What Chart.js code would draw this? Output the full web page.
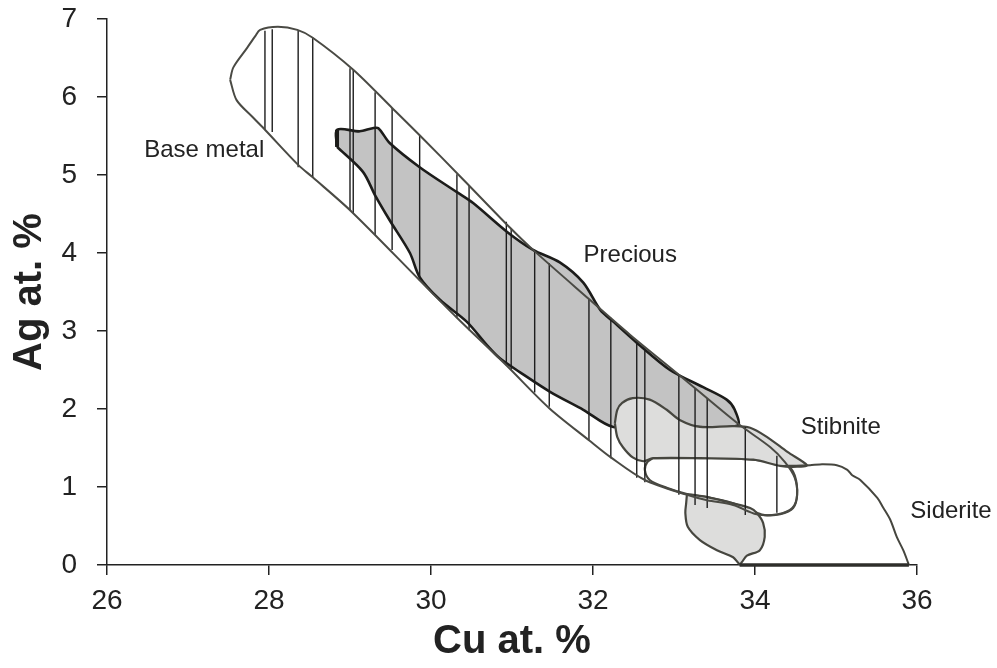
<!DOCTYPE html>
<html>
<head>
<meta charset="utf-8">
<script src="https://cdn.jsdelivr.net/npm/chart.js@4.4.1/dist/chart.umd.min.js"></script>
<style>
  html, body { margin: 0; padding: 0; background: #ffffff; }
  #wrap { width: 997px; height: 668px; }
</style>
</head>
<body>
<div id="wrap"><canvas id="c" width="997" height="668"></canvas></div>
<script>
// Axis ticks
const cuTicks = [26, 28, 30, 32, 34, 36];
const agTicks = [0, 1, 2, 3, 4, 5, 6, 7];

// Base metal field outline (Cu at.%, Ag at.%)
const baseCu = [27.52, 27.56, 27.73, 27.83, 27.89, 28.11, 28.35, 28.54, 29.04, 29.52, 29.86, 30.40, 30.98, 31.26, 31.95, 32.46, 33.06, 33.78, 34.19, 34.37, 34.49, 34.52, 34.46, 34.28, 34.02, 33.73, 33.41, 33.16, 32.64, 32.22, 31.95, 31.46, 30.93, 30.32, 29.86, 29.02, 28.54, 28.36, 27.95, 27.80, 27.60, 27.52];
const baseAg = [6.22, 6.38, 6.63, 6.78, 6.86, 6.90, 6.86, 6.76, 6.35, 5.86, 5.51, 4.94, 4.32, 4.04, 3.41, 2.95, 2.44, 1.82, 1.51, 1.32, 1.12, 0.90, 0.73, 0.65, 0.65, 0.77, 0.83, 0.90, 1.09, 1.38, 1.60, 2.01, 2.56, 3.17, 3.65, 4.53, 4.97, 5.13, 5.58, 5.74, 5.96, 6.22];

// Vertical ruling across the base metal field
const hatchCu = [27.95, 28.04, 28.36, 28.54, 29.00, 29.04, 29.31, 29.52, 29.86, 30.32, 30.47, 30.93, 30.99, 31.28, 31.46, 31.95, 32.22, 32.54, 32.64, 33.06, 33.26, 33.41, 33.88, 34.27];
const hatchTop = [6.85, 6.87, 6.85, 6.76, 6.37, 6.35, 6.06, 5.86, 5.51, 5.01, 4.86, 4.40, 4.32, 4.03, 3.87, 3.41, 3.17, 2.88, 2.79, 2.44, 2.27, 2.14, 1.77, 1.40];
const hatchBottom = [5.58, 5.55, 5.10, 4.97, 4.55, 4.51, 4.23, 4.04, 3.65, 3.17, 3.01, 2.56, 2.50, 2.21, 2.03, 1.59, 1.37, 1.12, 1.06, 0.90, 0.77, 0.73, 0.64, 0.67];

// Precious field outline
const preciousCu = [28.84, 28.84, 29.12, 29.28, 29.35, 29.49, 29.86, 30.32, 30.52, 30.94, 31.26, 31.59, 31.88, 32.09, 32.25, 32.54, 32.95, 33.36, 33.65, 33.75, 33.79, 33.32, 32.83, 32.25, 31.88, 31.47, 31.10, 30.85, 30.69, 30.44, 30.11, 29.86, 29.74, 29.49, 29.31, 29.16, 28.84];
const preciousAg = [5.36, 5.58, 5.56, 5.60, 5.60, 5.41, 5.10, 4.78, 4.64, 4.27, 4.04, 3.88, 3.62, 3.27, 3.12, 2.85, 2.50, 2.28, 2.12, 1.99, 1.79, 1.77, 1.79, 1.77, 1.99, 2.22, 2.47, 2.65, 2.82, 3.12, 3.40, 3.69, 4.00, 4.42, 4.74, 5.04, 5.36];
// heavier left edge of the precious field
const preciousEdgeCu = [28.84, 28.84];
const preciousEdgeAg = [5.36, 5.58];

// Stibnite field, upper lobe
const stibUpperCu = [32.27, 32.30, 32.36, 32.49, 32.70, 32.91, 33.07, 33.32, 33.73, 33.94, 34.15, 34.40, 34.64, 34.52, 34.31, 33.98, 33.32, 32.74, 32.62, 32.49, 32.37, 32.30, 32.27];
const stibUpperAg = [1.82, 1.99, 2.08, 2.14, 2.12, 1.99, 1.86, 1.77, 1.78, 1.76, 1.64, 1.45, 1.28, 1.26, 1.27, 1.35, 1.37, 1.37, 1.33, 1.38, 1.51, 1.64, 1.82];

// Open band between the stibnite lobes
const bandCu = [32.74, 33.32, 33.98, 34.40, 34.49, 34.52, 34.47, 34.31, 34.12, 34.02, 33.73, 33.41, 33.16, 32.91, 32.70, 32.64, 32.67, 32.74];
const bandAg = [1.37, 1.37, 1.35, 1.27, 1.15, 0.90, 0.73, 0.65, 0.64, 0.67, 0.79, 0.87, 0.91, 0.99, 1.09, 1.22, 1.32, 1.37];

// Stibnite field, lower lobe
const stibLowerCu = [33.16, 33.41, 33.73, 33.94, 34.02, 34.10, 34.12, 34.06, 33.90, 33.84, 33.81, 33.73, 33.53, 33.32, 33.17, 33.14, 33.15, 33.16];
const stibLowerAg = [0.91, 0.87, 0.79, 0.73, 0.67, 0.54, 0.36, 0.19, 0.12, 0.04, 0.01, 0.10, 0.19, 0.32, 0.49, 0.67, 0.79, 0.91];

// Siderite field boundary and its base along Ag = 0
const sideriteCu = [34.31, 34.68, 34.80, 35.01, 35.14, 35.20, 35.30, 35.51, 35.58, 35.67, 35.75, 35.83, 35.89, 35.90];
const sideriteAg = [1.27, 1.28, 1.29, 1.28, 1.22, 1.15, 1.09, 0.86, 0.74, 0.58, 0.36, 0.19, 0.03, 0.00];
const sideriteBaseCu = [33.81, 35.90];
const sideriteBaseAg = [0.00, 0.00];

// Field names
const fieldNames = ['Base metal', 'Precious', 'Stibnite', 'Siderite'];
const fieldNameCu = [27.20, 32.46, 35.06, 36.42];
const fieldNameAg = [5.31, 3.97, 1.76, 0.69];

const FONT = "'Liberation Sans', Arial, Helvetica, sans-serif";
const INK = '#222222';
const EDGE = '#46463f';

function pts(xs, ys) {
  return xs.map((x, i) => ({ x: x, y: ys[i] }));
}

function field(label, xs, ys, style, order) {
  return Object.assign({
    label: label,
    data: pts(xs, ys),
    showLine: true,
    pointRadius: 0,
    pointHoverRadius: 0,
    tension: 0.3,
    clip: false,
    order: order
  }, style);
}

const datasets = [];

// base metal background (drawn first)
datasets.push(field('Base metal area', baseCu, baseAg,
  { backgroundColor: '#ffffff', borderColor: 'rgba(0,0,0,0)', borderWidth: 0, fill: 'shape' }, 20));

datasets.push(field('Precious', preciousCu, preciousAg,
  { backgroundColor: '#c3c3c3', borderColor: '#1c1c1a', borderWidth: 2.6, fill: 'shape' }, 19));

datasets.push(field('Precious edge', preciousEdgeCu, preciousEdgeAg,
  { borderColor: '#1c1c1a', borderWidth: 4, fill: false, tension: 0 }, 18.5));

datasets.push(field('Band', bandCu, bandAg,
  { backgroundColor: '#ffffff', borderColor: EDGE, borderWidth: 2.2, fill: 'shape' }, 18));

datasets.push(field('Stibnite upper', stibUpperCu, stibUpperAg,
  { backgroundColor: '#dddddc', borderColor: EDGE, borderWidth: 2.2, fill: 'shape' }, 17));

datasets.push(field('Stibnite lower', stibLowerCu, stibLowerAg,
  { backgroundColor: '#dddddc', borderColor: EDGE, borderWidth: 2.2, fill: 'shape' }, 16));

datasets.push(field('Siderite', sideriteCu, sideriteAg,
  { borderColor: EDGE, borderWidth: 2, fill: false }, 15));

datasets.push(field('Siderite base', sideriteBaseCu, sideriteBaseAg,
  { borderColor: '#2e2e2b', borderWidth: 3.5, fill: false, tension: 0 }, 14));

hatchCu.forEach((cu, i) => {
  datasets.push(field('Rule ' + i, [cu, cu], [hatchTop[i], hatchBottom[i]],
    { borderColor: '#1e1e1e', borderWidth: 1.4, fill: false, tension: 0 }, 10));
});

// base metal outline on top
datasets.push(field('Base metal outline', baseCu, baseAg,
  { borderColor: '#4a4a44', borderWidth: 2, fill: false }, 2));

const fieldLabels = {
  id: 'fieldLabels',
  afterDatasetsDraw(chart) {
    const { ctx, scales } = chart;
    ctx.save();
    ctx.font = '24px ' + FONT;
    ctx.fillStyle = INK;
    ctx.textAlign = 'center';
    ctx.textBaseline = 'middle';
    fieldNames.forEach((name, i) => {
      ctx.fillText(name, scales.x.getPixelForValue(fieldNameCu[i]), scales.y.getPixelForValue(fieldNameAg[i]));
    });
    ctx.restore();
  }
};

new Chart(document.getElementById('c'), {
  type: 'scatter',
  data: { datasets: datasets },
  options: {
    responsive: false,
    animation: false,
    events: [],
    layout: { padding: { top: 19, right: 80, left: 0, bottom: 0 } },
    plugins: { legend: { display: false }, tooltip: { enabled: false } },
    elements: { line: { capBezierPoints: false } },
    scales: {
      x: {
        type: 'linear',
        min: cuTicks[0],
        max: cuTicks[cuTicks.length - 1],
        afterBuildTicks: (s) => { s.ticks = cuTicks.map(v => ({ value: v })); },
        afterFit: (s) => { s.height = 103; s.paddingLeft = 0; s.paddingRight = 0; },
        ticks: { color: INK, font: { family: FONT, size: 28 }, padding: 9, maxRotation: 0 },
        grid: { drawOnChartArea: false, drawTicks: true, tickLength: 10, color: INK, lineWidth: 1.5 },
        border: { display: true, color: INK, width: 1.5 },
        title: { display: true, text: 'Cu at. %', color: INK, font: { family: FONT, size: 40, weight: 'bold' }, padding: { top: 0, bottom: 2 } }
      },
      y: {
        type: 'linear',
        min: agTicks[0],
        max: agTicks[agTicks.length - 1],
        afterBuildTicks: (s) => { s.ticks = agTicks.map(v => ({ value: v })); },
        afterFit: (s) => { s.width = 107; s.paddingTop = 0; s.paddingBottom = 0; },
        ticks: { color: INK, font: { family: FONT, size: 28 }, padding: 20 },
        grid: { drawOnChartArea: false, drawTicks: true, tickLength: 10, color: INK, lineWidth: 1.5 },
        border: { display: true, color: INK, width: 1.5 },
        title: { display: true, text: 'Ag at. %', color: INK, font: { family: FONT, size: 40, weight: 'bold' }, padding: { top: 6, bottom: 0 } }
      }
    }
  },
  plugins: [fieldLabels]
});
</script>
</body>
</html>
